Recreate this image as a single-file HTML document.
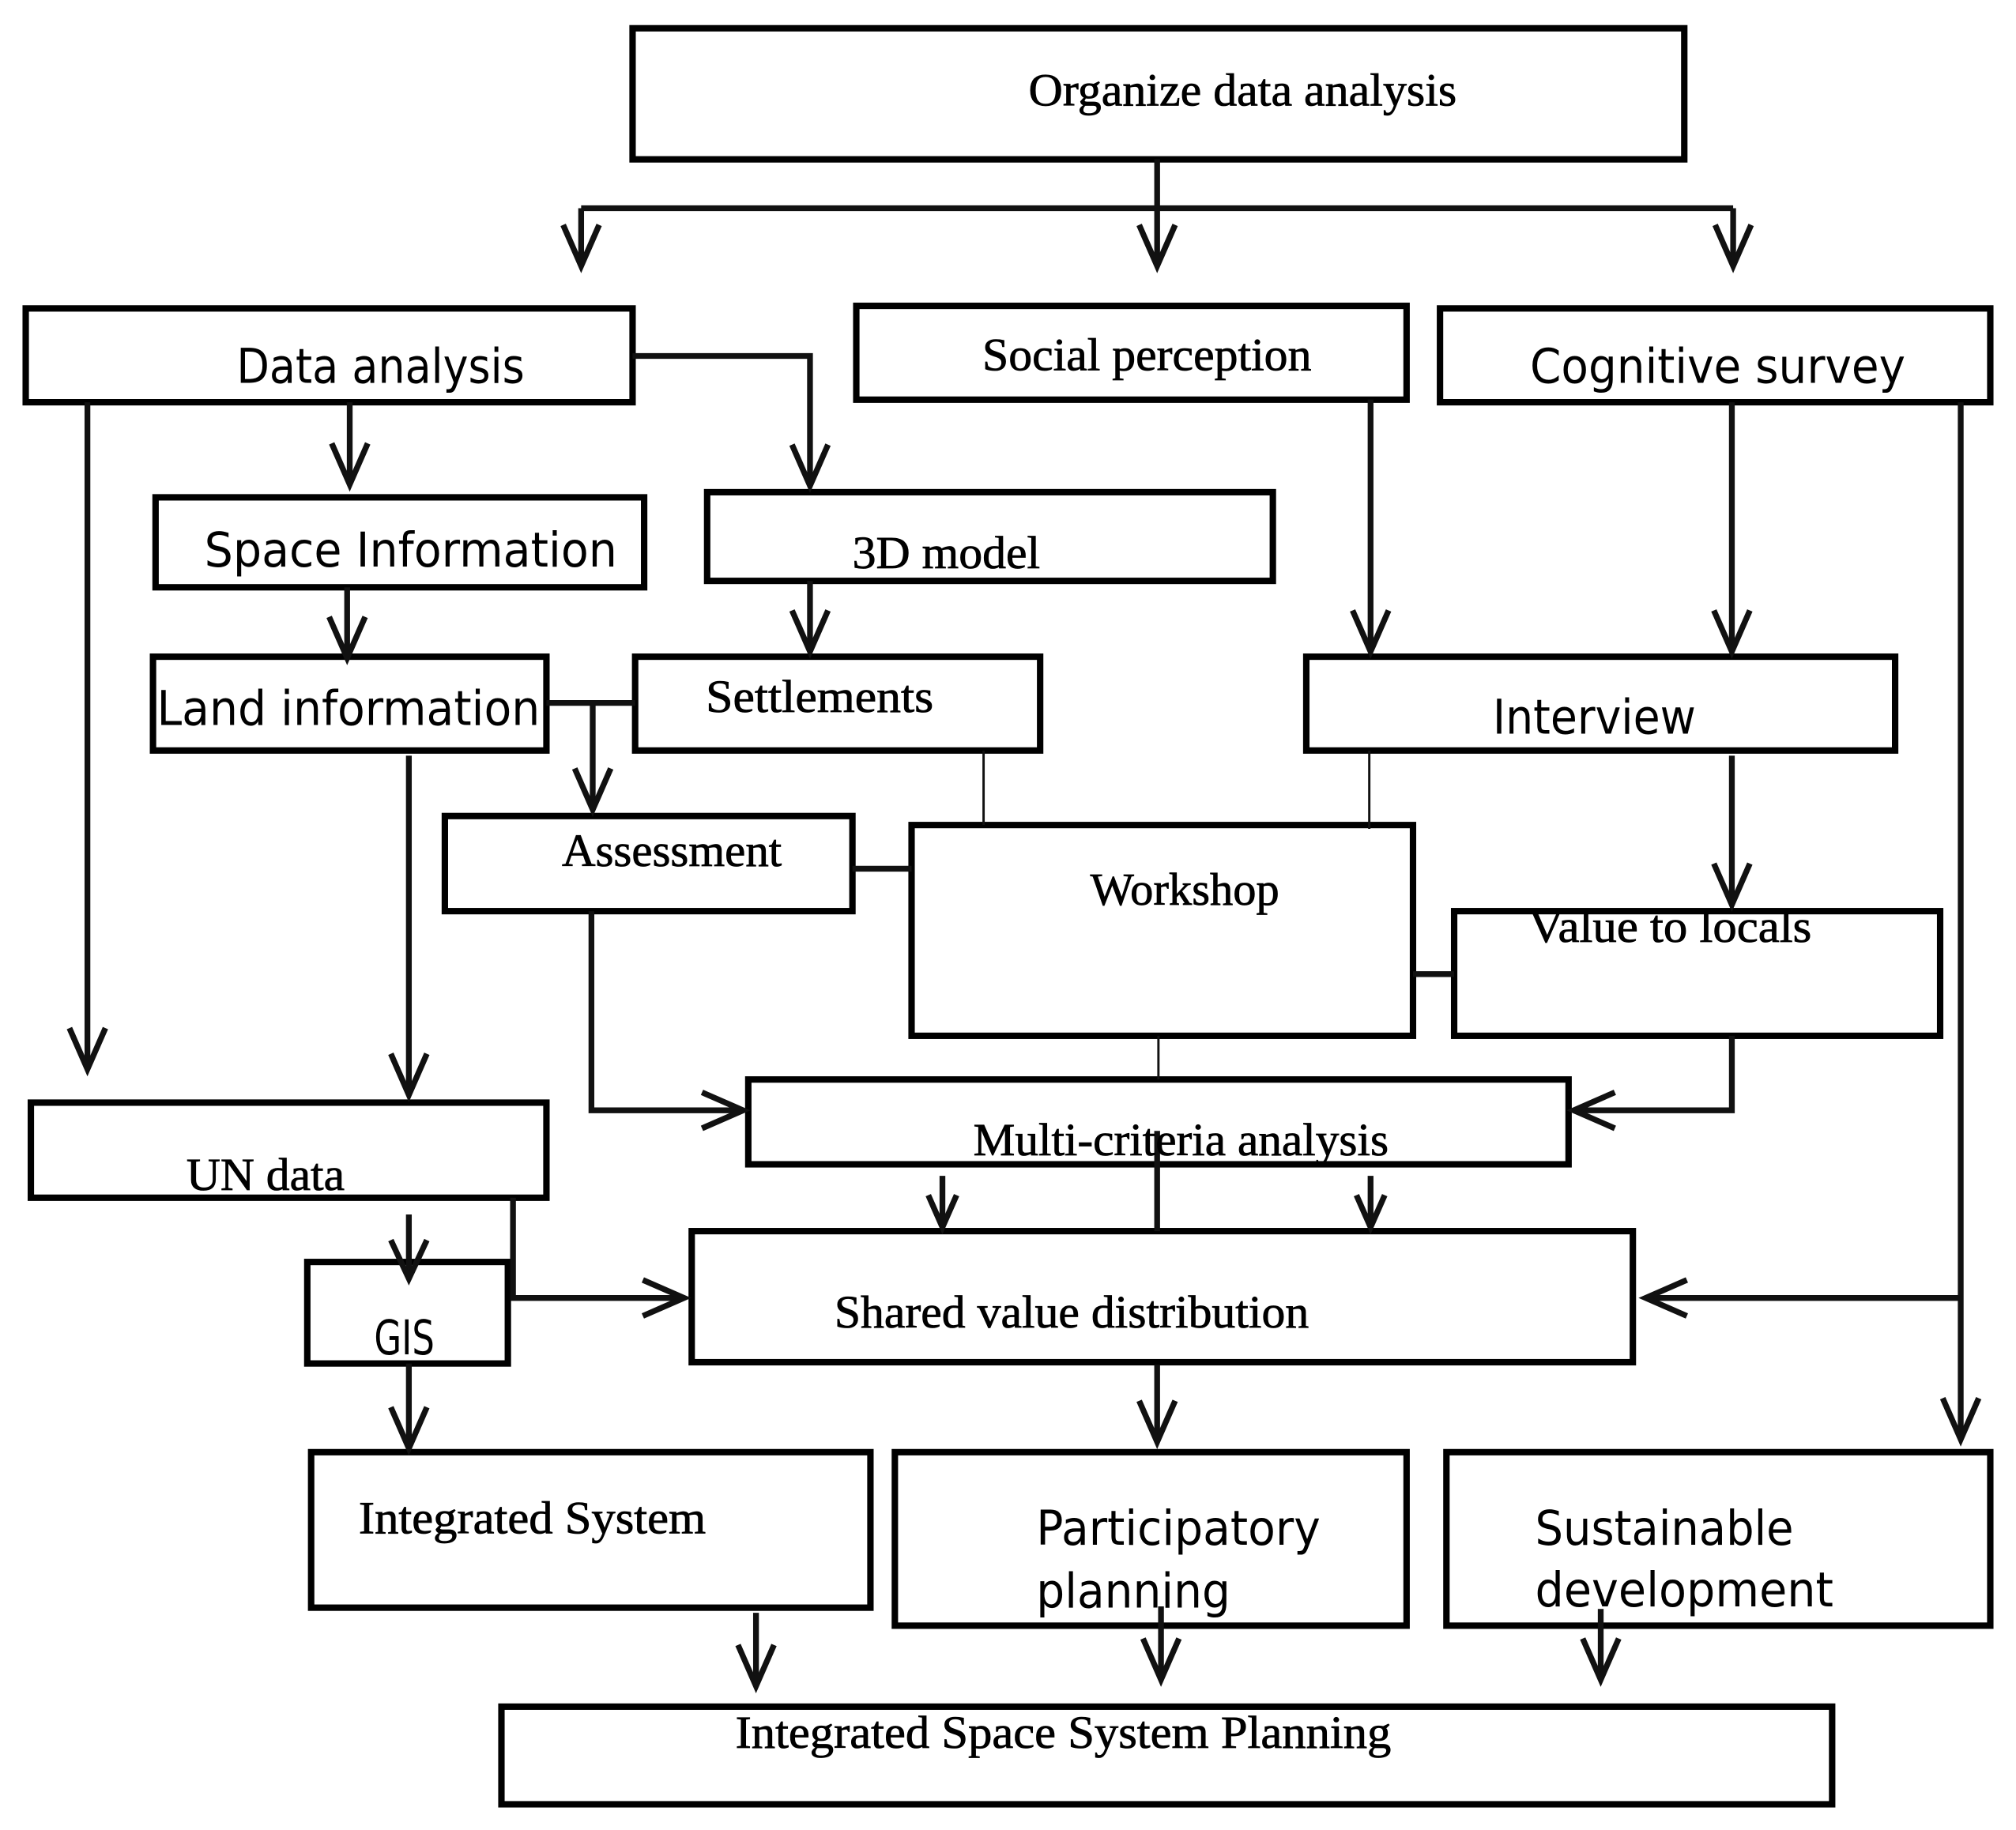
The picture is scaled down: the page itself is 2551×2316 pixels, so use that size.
<!DOCTYPE html>
<html><head><meta charset="utf-8"><style>
html,body{margin:0;padding:0;background:#fff;}
svg{display:block;}
.b{fill:none;stroke:#000;stroke-width:5;}
.l{fill:none;stroke:#111;stroke-width:4.5;}
.t{fill:none;stroke:#111;stroke-width:1.8;}
.s{font-family:"Liberation Serif",serif;font-size:36px;fill:#000;stroke:#000;stroke-width:0.5;}
.n{font-family:"DejaVu Sans","Liberation Sans",sans-serif;font-size:37px;fill:#000;}
</style></head><body>
<svg width="2551" height="2316" viewBox="0 0 1568 1424" preserveAspectRatio="none" xmlns="http://www.w3.org/2000/svg">
<rect width="1568" height="1424" fill="#fff"/>
<rect class="b" x="492" y="22" width="818" height="102"/>
<rect class="b" x="20" y="240" width="472" height="73"/>
<rect class="b" x="666" y="238" width="428" height="73"/>
<rect class="b" x="1120" y="240" width="428" height="73"/>
<rect class="b" x="121" y="387" width="380" height="70"/>
<rect class="b" x="550" y="383" width="440" height="69"/>
<rect class="b" x="119" y="511" width="306" height="73"/>
<rect class="b" x="494" y="511" width="315" height="73"/>
<rect class="b" x="1016" y="511" width="458" height="73"/>
<rect class="b" x="346" y="635" width="317" height="74"/>
<rect class="b" x="709" y="642" width="390" height="164"/>
<rect class="b" x="1131" y="709" width="378" height="97"/>
<rect class="b" x="582" y="840" width="638" height="66"/>
<rect class="b" x="24" y="858" width="401" height="74"/>
<rect class="b" x="538" y="958" width="732" height="102"/>
<rect class="b" x="239" y="982" width="156" height="79"/>
<rect class="b" x="242" y="1130" width="435" height="121"/>
<rect class="b" x="696" y="1130" width="398" height="135"/>
<rect class="b" x="1125" y="1130" width="423" height="135"/>
<rect class="b" x="390" y="1328" width="1035" height="76"/>
<path class="l" d="M900,124 V205 M452,162 H1348 M452,162 V205 M1348,162 V205"/>
<path class="l" d="M492,277 H630 V376 M272,313 V375 M68,313 V830 M270,457 V510 M630,452 V505"/>
<path class="l" d="M425,547 H494 M461,547 V628 M663,676 H709 M1066,311 V505 M1347,313 V505 M1347,588 V702 M1099,758 H1131"/>
<path class="l" d="M1525,313 V1118 M1525,1010 H1282 M318,588 V850 M460,709 V864 H576 M1347,806 V864 H1226"/>
<path class="l" d="M733,915 V953 M1066,915 V953 M900,880 V958 M399,932 V1010 H530 M318,945 V993 M318,1061 V1125 M900,1062 V1120"/>
<path class="l" d="M588,1255 V1310 M903,1250 V1305 M1245,1252 V1305"/>
<path class="t" d="M765,584 V642 M1065,584 V645 M901,806 V840"/>
<g class="l">
<path d="M438,175 L452,207 L466,175"/><path d="M886,175 L900,207 L914,175"/><path d="M1334,175 L1348,207 L1362,175"/>
<path d="M258,345 L272,377 L286,345"/><path d="M616,346 L630,378 L644,346"/><path d="M54,800 L68,832 L82,800"/>
<path d="M256,480 L270,512 L284,480"/><path d="M616,475 L630,507 L644,475"/><path d="M447,598 L461,630 L475,598"/>
<path d="M1052,475 L1066,507 L1080,475"/><path d="M1333,475 L1347,507 L1361,475"/><path d="M1333,672 L1347,704 L1361,672"/>
<path d="M1511,1088 L1525,1120 L1539,1088"/><path d="M1312,996 L1280,1010 L1312,1024"/>
<path d="M304,820 L318,852 L332,820"/><path d="M546,850 L578,864 L546,878"/><path d="M1256,850 L1224,864 L1256,878"/>
<path d="M722,930 L733,955 L744,930"/><path d="M1055,930 L1066,955 L1077,930"/>
<path d="M500,996 L532,1010 L500,1024"/><path d="M304,965 L318,995 L332,965"/>
<path d="M304,1095 L318,1127 L332,1095"/><path d="M886,1090 L900,1122 L914,1090"/>
<path d="M574,1280 L588,1312 L602,1280"/><path d="M889,1275 L903,1307 L917,1275"/><path d="M1231,1275 L1245,1307 L1259,1275"/>
</g>
<text class="s" x="800" y="82" textLength="333" lengthAdjust="spacingAndGlyphs">Organize data analysis</text>
<text class="n" x="184" y="298" textLength="224" lengthAdjust="spacingAndGlyphs">Data analysis</text>
<text class="s" x="764" y="288" textLength="256" lengthAdjust="spacingAndGlyphs">Social perception</text>
<text class="n" x="1190" y="298" textLength="292" lengthAdjust="spacingAndGlyphs">Cognitive survey</text>
<text class="n" x="159" y="441" textLength="321" lengthAdjust="spacingAndGlyphs">Space Information</text>
<text class="s" x="663" y="442" textLength="146" lengthAdjust="spacingAndGlyphs">3D model</text>
<text class="n" x="122" y="564" textLength="298" lengthAdjust="spacingAndGlyphs">Land information</text>
<text class="s" x="549" y="554" textLength="177" lengthAdjust="spacingAndGlyphs" font-size="38">Settlements</text>
<text class="n" x="1161" y="571" textLength="158" lengthAdjust="spacingAndGlyphs">Interview</text>
<text class="s" x="437" y="674" textLength="171" lengthAdjust="spacingAndGlyphs">Assessment</text>
<text class="s" x="848" y="704" textLength="147" lengthAdjust="spacingAndGlyphs">Workshop</text>
<text class="s" x="1189" y="733" textLength="220" lengthAdjust="spacingAndGlyphs">Value to locals</text>
<text class="s" x="757" y="899" textLength="323" lengthAdjust="spacingAndGlyphs">Multi-criteria analysis</text>
<text class="s" x="145" y="926" textLength="123" lengthAdjust="spacingAndGlyphs">UN data</text>
<text class="s" x="649" y="1033" textLength="369" lengthAdjust="spacingAndGlyphs">Shared value distribution</text>
<text class="n" x="291" y="1054" textLength="47" lengthAdjust="spacingAndGlyphs" font-size="29">GIS</text>
<text class="s" x="279" y="1193" textLength="270" lengthAdjust="spacingAndGlyphs">Integrated System</text>
<text class="n" x="806" y="1202" textLength="221" lengthAdjust="spacingAndGlyphs">Participatory</text>
<text class="n" x="806" y="1251" textLength="151" lengthAdjust="spacingAndGlyphs">planning</text>
<text class="n" x="1194" y="1202" textLength="201" lengthAdjust="spacingAndGlyphs">Sustainable</text>
<text class="n" x="1194" y="1250" textLength="232" lengthAdjust="spacingAndGlyphs">development</text>
<text class="s" x="572" y="1360" textLength="510" lengthAdjust="spacingAndGlyphs">Integrated Space System Planning</text>
</svg>
</body></html>
